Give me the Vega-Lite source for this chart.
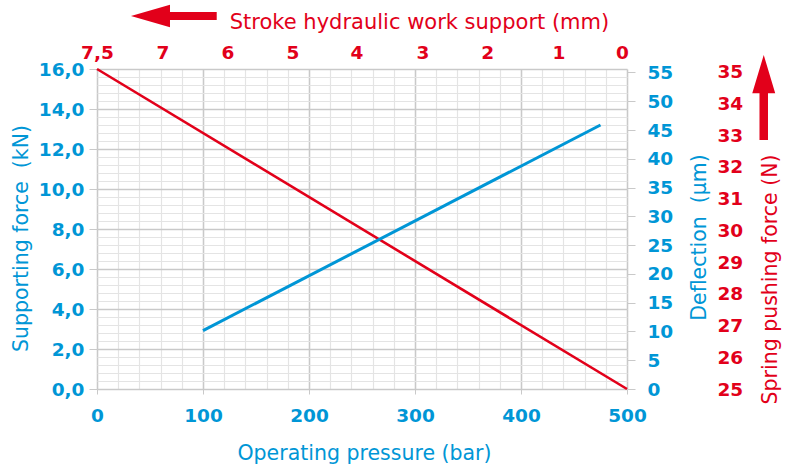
{
  "$schema": "https://vega.github.io/schema/vega-lite/v6.json",
  "width": 530,
  "height": 320,
  "autosize": "none",
  "padding": {"left": 97, "top": 69, "right": 164, "bottom": 77},
  "background": "white",
  "config": {
    "view": {"stroke": null},
    "axis": {"labelFont": "DejaVu Sans", "titleFont": "DejaVu Sans", "labelFlush": false, "labelOverlap": false, "labelFontWeight": "bold", "labelFontSize": 18.5, "titleFontWeight": "normal", "titleFontSize": 20.5}
  },
  "datasets": {
    "spring": [{"pressure": 0, "force": 16}, {"pressure": 500, "force": 0}],
    "deflection": [{"pressure": 100, "deflection": 10.15}, {"pressure": 475, "deflection": 45.87}],
    "springN": [{"N": 25}, {"N": 35}]
  },
  "resolve": {"scale": {"y": "independent"}, "axis": {"x": "independent", "y": "independent"}},
  "layer": [
    {
      "data": {"name": "spring"},
      "mark": {"type": "line", "opacity": 0},
      "encoding": {
        "x": {"field": "pressure", "type": "quantitative", "scale": {"domain": [0, 500], "nice": false},
          "axis": {"orient": "bottom", "grid": true, "gridColor": "#e4e4e4", "gridWidth": 1.2, "values": [0,20,40,60,80,100,120,140,160,180,200,220,240,260,280,300,320,340,360,380,400,420,440,460,480,500], "labels": false, "ticks": false, "domain": false, "title": null}},
        "y": {"field": "force", "type": "quantitative", "scale": {"domain": [0, 16], "nice": false},
          "axis": {"orient": "left", "grid": true, "gridColor": "#e4e4e4", "gridWidth": 1.2, "values": [0,0.4,0.8,1.2,1.6,2,2.4,2.8,3.2,3.6,4,4.4,4.8,5.2,5.6,6,6.4,6.8,7.2,7.6,8,8.4,8.8,9.2,9.6,10,10.4,10.8,11.2,11.6,12,12.4,12.8,13.2,13.6,14,14.4,14.8,15.2,15.6,16], "labels": false, "ticks": false, "domain": false, "title": null}}
      }
    },
    {
      "data": {"name": "spring"},
      "mark": {"type": "line", "color": "#e2001a", "strokeWidth": 2.6},
      "encoding": {
        "x": {"field": "pressure", "type": "quantitative", "scale": {"domain": [0, 500], "nice": false},
          "axis": {"orient": "bottom", "grid": true, "gridColor": "#c9c9c9", "gridWidth": 1.5, "values": [0,100,200,300,400,500], "ticks": true, "tickSize": 5, "tickColor": "#c9c9c9", "domain": false, "labelColor": "#0096d6", "labelPadding": 12, "title": "Operating pressure (bar)", "titleColor": "#0096d6", "titleBaseline": "alphabetic", "titleX": 267, "titleY": 70}},
        "y": {"field": "force", "type": "quantitative", "scale": {"domain": [0, 16], "nice": false},
          "axis": {"orient": "left", "grid": true, "gridColor": "#c9c9c9", "gridWidth": 1.5, "values": [0,2,4,6,8,10,12,14,16], "ticks": true, "tickSize": 8, "tickColor": "#c9c9c9", "domain": false, "labelColor": "#0096d6", "labelPadding": 5, "labelExpr": "replace(format(datum.value, '.1f'), '.', ',')", "title": "Supporting force\u00a0 (kN)", "titleColor": "#0096d6", "titleBaseline": "alphabetic", "titleAngle": -90, "titleX": -70, "titleY": 169}}
      }
    },
    {
      "data": {"name": "spring"},
      "mark": {"type": "line", "opacity": 0},
      "encoding": {
        "x": {"field": "pressure", "type": "quantitative", "scale": {"domain": [0, 500], "nice": false},
          "axis": {"orient": "top", "grid": false, "values": [0, 61.8, 123.1, 184.4, 244.8, 307.1, 368, 435.4, 495.3], "ticks": false, "tickSize": 0, "domain": false, "labelColor": "#e2001a", "labelPadding": 7, "labelExpr": "datum.value < 30 ? '7,5' : datum.value < 90 ? '7' : datum.value < 150 ? '6' : datum.value < 210 ? '5' : datum.value < 270 ? '4' : datum.value < 340 ? '3' : datum.value < 400 ? '2' : datum.value < 470 ? '1' : '0'", "title": "Stroke hydraulic work support (mm)", "titleColor": "#e2001a", "titleFontSize": 21, "titleBaseline": "alphabetic", "titleX": 322, "titleY": -41}},
        "y": {"field": "force", "type": "quantitative", "scale": {"domain": [0, 16], "nice": false}, "axis": null}
      }
    },
    {
      "data": {"name": "deflection"},
      "mark": {"type": "line", "color": "#0096d6", "strokeWidth": 3},
      "encoding": {
        "x": {"field": "pressure", "type": "quantitative", "scale": {"domain": [0, 500], "nice": false}, "axis": null},
        "y": {"field": "deflection", "type": "quantitative", "scale": {"domain": [0, 55.6], "nice": false},
          "axis": {"orient": "right", "grid": false, "values": [0,5,10,15,20,25,30,35,40,45,50,55], "ticks": true, "tickSize": 8, "tickColor": "#c9c9c9", "domain": false, "labelColor": "#0096d6", "labelPadding": 12, "title": "Deflection\u00a0 (µm)", "titleColor": "#0096d6", "titleBaseline": "alphabetic", "titleAngle": -90, "titleX": 78, "titleY": 168}}
      }
    },
    {
      "data": {"name": "springN"},
      "mark": {"type": "point", "opacity": 0},
      "encoding": {
        "y": {"field": "N", "type": "quantitative", "scale": {"domain": [25, 35.08], "nice": false},
          "axis": {"orient": "right", "offset": 80, "grid": false, "values": [25,26,27,28,29,30,31,32,33,34,35], "ticks": false, "tickSize": 0, "domain": false, "labelColor": "#e2001a", "labelPadding": 10, "title": "Spring pushing force (N)", "titleColor": "#e2001a", "titleBaseline": "alphabetic", "titleAngle": -90, "titleX": 69.5, "titleY": 210}}
      }
    },
    {
      "data": {"values": [{}]},
      "mark": {"type": "point", "shape": "M-1,0L-0.09,-0.26L-0.09,-0.095L1,-0.095L1,0.095L-0.09,0.095L-0.09,0.26Z", "filled": true, "fill": "#e2001a", "strokeWidth": 0, "opacity": 1, "size": 7350},
      "encoding": {
        "x": {"datum": 72.5, "type": "quantitative", "scale": {"domain": [0, 500], "nice": false}, "axis": null},
        "y": {"datum": 18.65, "type": "quantitative", "scale": {"domain": [0, 16], "nice": false}, "axis": null}
      }
    },
    {
      "data": {"values": [{}]},
      "mark": {"type": "point", "shape": "M0,-1L0.27,-0.1L0.1,-0.1L0.1,1L-0.1,1L-0.1,-0.1L-0.27,-0.1Z", "filled": true, "fill": "#e2001a", "strokeWidth": 0, "opacity": 1, "size": 7225},
      "encoding": {
        "x": {"datum": 629, "type": "quantitative", "scale": {"domain": [0, 500], "nice": false}, "axis": null},
        "y": {"datum": 14.575, "type": "quantitative", "scale": {"domain": [0, 16], "nice": false}, "axis": null}
      }
    }
  ]
}
